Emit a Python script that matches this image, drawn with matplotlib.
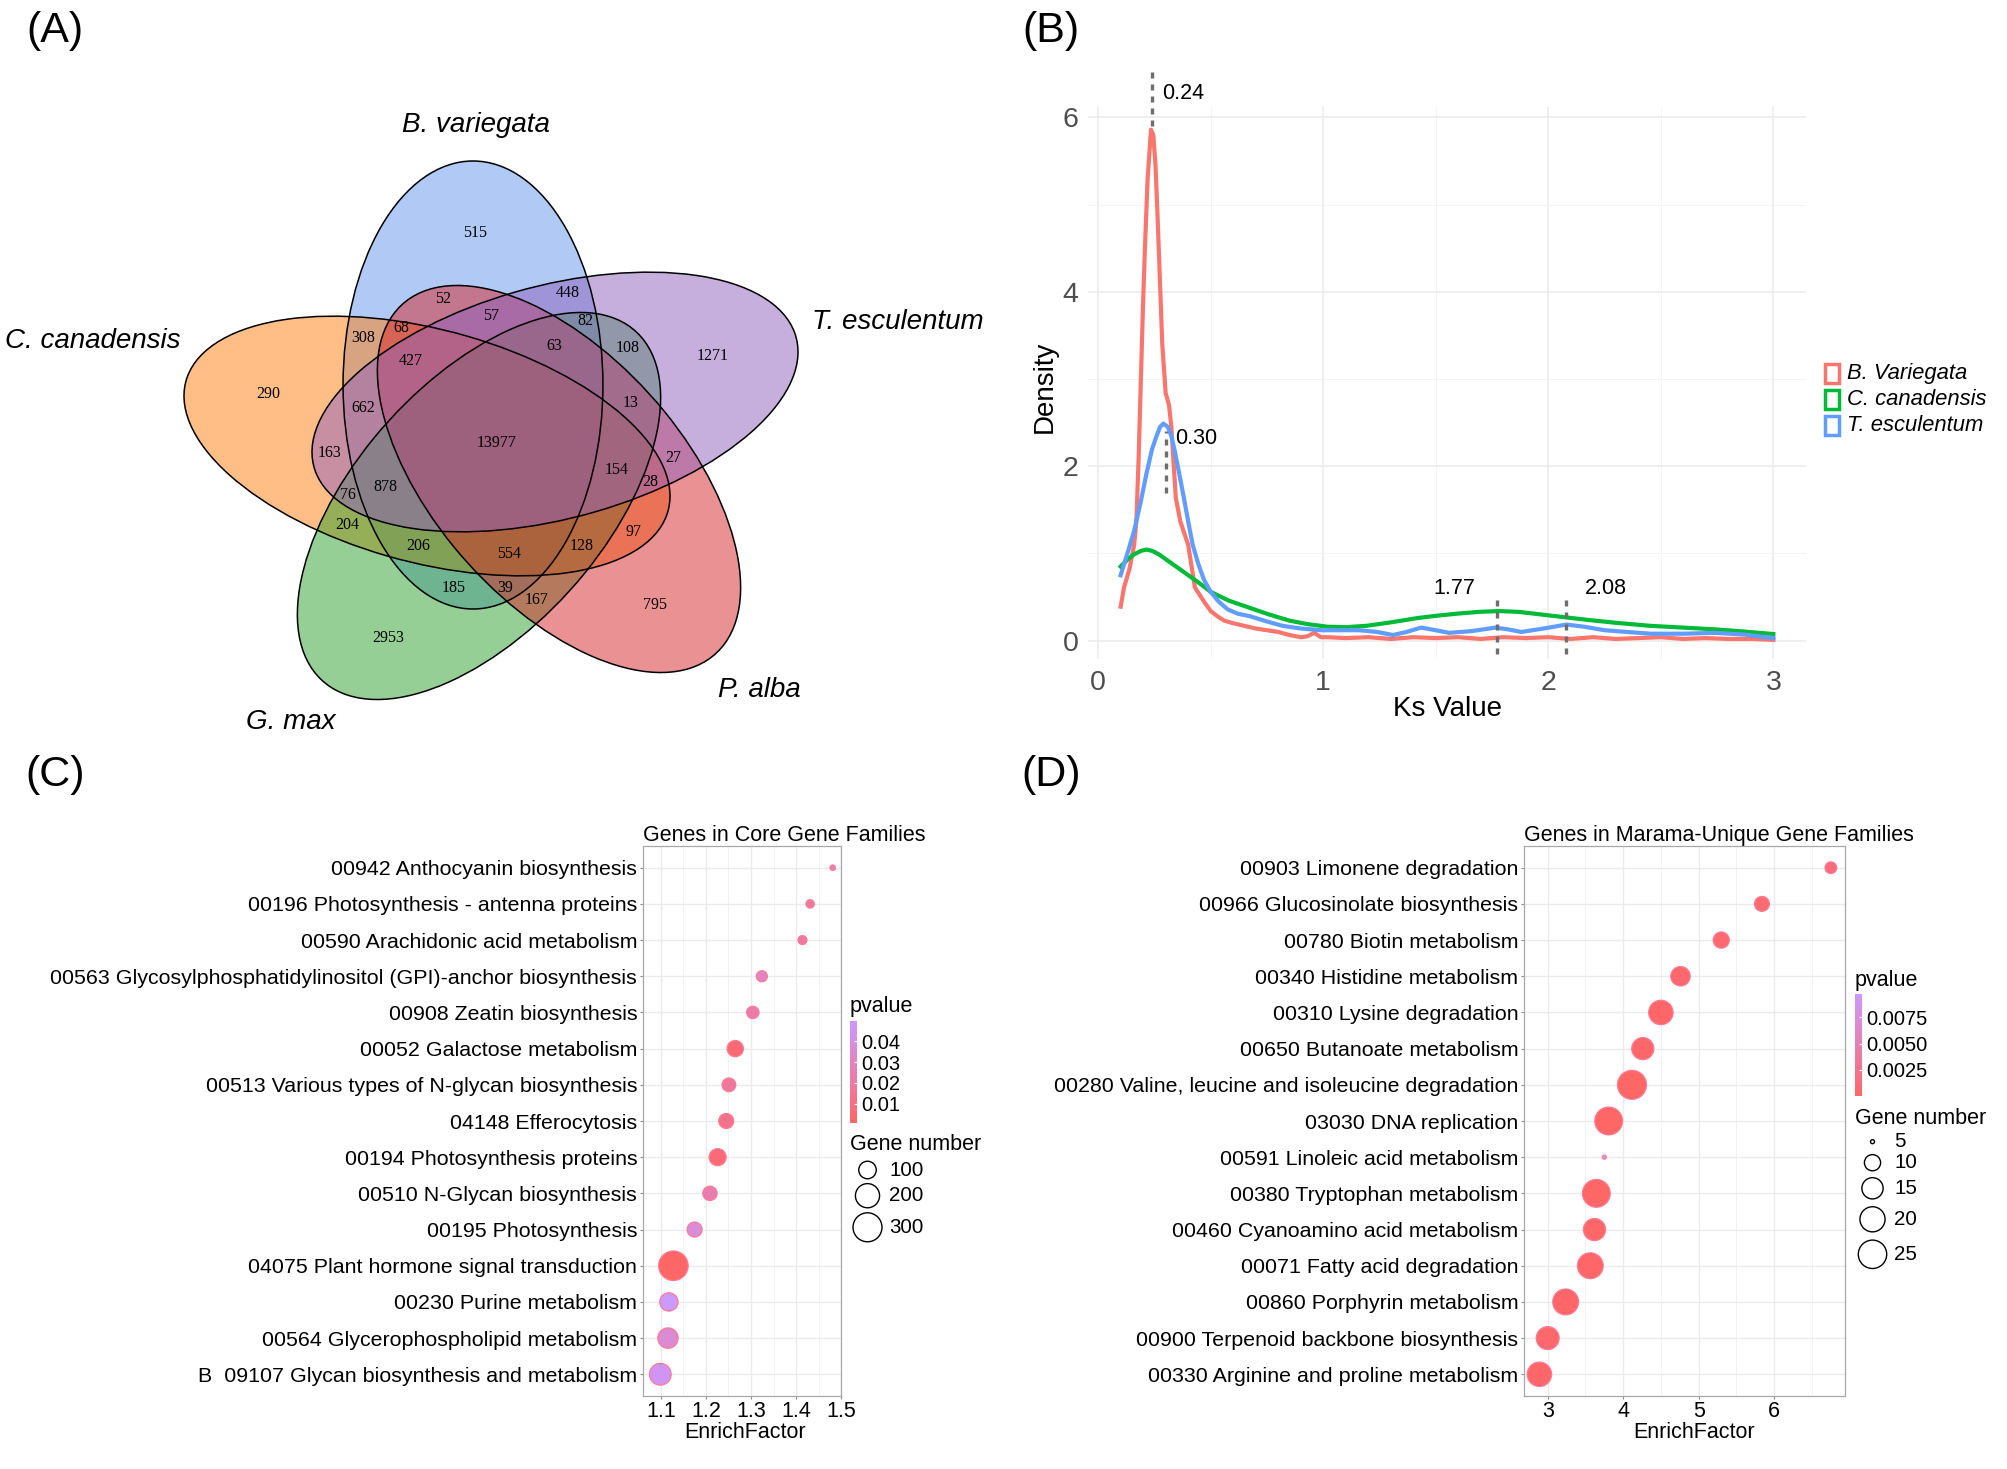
import numpy as np
import matplotlib.pyplot as plt
from matplotlib.patches import Ellipse, Rectangle
from matplotlib.colors import LinearSegmentedColormap, Normalize

W, H = 2008, 1469
plt.rcParams['font.family'] = ['Liberation Sans', 'DejaVu Sans']

# ---------------- data ----------------
# (A) five-set Venn
venn_names = ['B. variegata', 'T. esculentum', 'P. alba', 'G. max', 'C. canadensis']
venn_colors = ['#6495ED', '#9161BD', '#D62728', '#2CA02C', '#FF7F0E']
venn_counts = [515, 1271, 795, 2953, 290, 52, 448, 57, 82, 68, 308, 63, 108, 427, 13,
               662, 13977, 163, 27, 154, 28, 878, 76, 204, 97, 206, 128, 554, 185, 39, 167]

# (B) Ks density
bv_x = [0.10, 0.115, 0.14, 0.16, 0.17, 0.18, 0.19, 0.20, 0.21, 0.22, 0.235, 0.245, 0.255,
        0.265, 0.275, 0.285, 0.30, 0.315, 0.325, 0.335, 0.345, 0.365,
        0.40, 0.43, 0.47, 0.50, 0.53, 0.56, 0.60, 0.65, 0.70, 0.75, 0.80, 0.85, 0.90, 0.93, 0.96,
        0.99, 1.02, 1.10, 1.20, 1.30, 1.40, 1.50, 1.60, 1.70, 1.80, 1.90, 2.00, 2.10, 2.20, 2.30,
        2.40, 2.50, 2.60, 2.70, 2.80, 2.90, 3.00]
bv_y = [0.39, 0.61, 0.83, 1.10, 1.37, 2.10, 3.0, 3.90, 4.64, 5.30, 5.86, 5.80, 5.45,
        4.80, 4.10, 3.40, 2.84, 2.70, 2.46, 2.05, 1.64, 1.37,
        1.10, 0.61, 0.45, 0.34, 0.28, 0.23, 0.20, 0.17, 0.14, 0.12, 0.10, 0.065, 0.04, 0.05, 0.09,
        0.04, 0.04, 0.03, 0.04, 0.02, 0.04, 0.03, 0.04, 0.02, 0.04, 0.03, 0.04, 0.02, 0.04, 0.02,
        0.03, 0.04, 0.02, 0.03, 0.02, 0.02, 0.01]
cc_x = [0.10, 0.13, 0.16, 0.19, 0.215, 0.24, 0.27, 0.33, 0.39, 0.45, 0.50, 0.58, 0.675, 0.76,
        0.85, 0.93, 1.02, 1.10, 1.19, 1.30, 1.42, 1.50, 1.595, 1.69, 1.78, 1.87, 1.97, 2.07, 2.17,
        2.30, 2.455, 2.60, 2.74, 2.87, 3.00]
cc_y = [0.85, 0.93, 0.99, 1.03, 1.045, 1.03, 0.99, 0.88, 0.77, 0.66, 0.56, 0.46, 0.375, 0.30,
        0.23, 0.19, 0.16, 0.155, 0.17, 0.21, 0.26, 0.285, 0.31, 0.33, 0.34, 0.33, 0.30, 0.27, 0.24,
        0.205, 0.17, 0.15, 0.13, 0.105, 0.076]
te_x = [0.10, 0.13, 0.16, 0.19, 0.215, 0.24, 0.26, 0.275, 0.29, 0.31, 0.325, 0.34, 0.36, 0.38,
        0.40, 0.42, 0.445, 0.47, 0.50, 0.535, 0.575, 0.62, 0.675, 0.75, 0.82, 0.90, 0.99, 1.08,
        1.16, 1.24, 1.31, 1.37, 1.435, 1.50, 1.56, 1.66, 1.765, 1.82, 1.88, 1.98, 2.08, 2.16,
        2.25, 2.35, 2.455, 2.60, 2.74, 2.87, 3.00]
te_y = [0.75, 1.00, 1.26, 1.60, 1.92, 2.20, 2.35, 2.45, 2.49, 2.45, 2.35, 2.18, 1.92, 1.65,
        1.37, 1.10, 0.88, 0.70, 0.56, 0.45, 0.36, 0.31, 0.28, 0.22, 0.17, 0.14, 0.12, 0.12,
        0.12, 0.10, 0.065, 0.10, 0.15, 0.12, 0.09, 0.11, 0.15, 0.13, 0.10, 0.14, 0.185, 0.16,
        0.12, 0.10, 0.08, 0.08, 0.09, 0.07, 0.03]
ks_peaks = [0.24, 0.30, 1.77, 2.08]

# (C) core gene families
core_terms = ['00942 Anthocyanin biosynthesis',
              '00196 Photosynthesis - antenna proteins',
              '00590 Arachidonic acid metabolism',
              '00563 Glycosylphosphatidylinositol (GPI)-anchor biosynthesis',
              '00908 Zeatin biosynthesis',
              '00052 Galactose metabolism',
              '00513 Various types of N-glycan biosynthesis',
              '04148 Efferocytosis',
              '00194 Photosynthesis proteins',
              '00510 N-Glycan biosynthesis',
              '00195 Photosynthesis',
              '04075 Plant hormone signal transduction',
              '00230 Purine metabolism',
              '00564 Glycerophospholipid metabolism',
              'B  09107 Glycan biosynthesis and metabolism']
core_enrich = [1.481, 1.431, 1.414, 1.324, 1.304, 1.265, 1.251, 1.245, 1.226, 1.209, 1.175,
               1.128, 1.118, 1.116, 1.099]
core_genes = [29, 33, 35, 44, 52, 86, 62, 73, 94, 67, 73, 312, 109, 137, 158]
core_pvalue = [0.030, 0.020, 0.019, 0.030, 0.022, 0.005, 0.018, 0.012, 0.006, 0.024, 0.037,
               0.0008, 0.0497, 0.036, 0.046]

# (D) marama-unique gene families
uniq_terms = ['00903 Limonene degradation',
              '00966 Glucosinolate biosynthesis',
              '00780 Biotin metabolism',
              '00340 Histidine metabolism',
              '00310 Lysine degradation',
              '00650 Butanoate metabolism',
              '00280 Valine, leucine and isoleucine degradation',
              '03030 DNA replication',
              '00591 Linoleic acid metabolism',
              '00380 Tryptophan metabolism',
              '00460 Cyanoamino acid metabolism',
              '00071 Fatty acid degradation',
              '00860 Porphyrin metabolism',
              '00900 Terpenoid backbone biosynthesis',
              '00330 Arginine and proline metabolism']
uniq_enrich = [6.753, 5.839, 5.30, 4.76, 4.50, 4.26, 4.117, 3.808, 3.75, 3.645, 3.62, 3.565,
               3.238, 3.0, 2.89]
uniq_genes = [7, 9, 10, 13, 19, 16, 26, 24, 5, 24, 16, 21, 21, 17, 19]
uniq_pvalue = [0.0012, 0.0009, 0.0006, 0.0004, 0.0001, 0.0003, 0.00002, 0.00005, 0.0097,
               0.00004, 0.0002, 0.0001, 0.0001, 0.0004, 0.0003]

# ---------------- layout (pixel positions) ----------------
# ellipse centres on the page, same order as venn_names
ell_centres = [(473, 385), (555, 402), (559, 479), (479, 506), (427, 446)]
count_pos = [(475, 233), (713, 356), (655, 605), (388, 638), (268, 394), (443, 299), (568, 293),
             (491, 316), (585, 321), (401, 328), (363, 338), (554, 346), (628, 348), (411, 361),
             (631, 403), (363, 408), (497, 443), (330, 453), (673, 458), (617, 470), (650, 482),
             (385, 487), (348, 495), (347, 525), (634, 532), (418, 546), (582, 546), (509, 554),
             (454, 588), (505, 588), (537, 600)]
name_pos = [(476, 125), (898, 322), (759, 690), (291, 722), (93, 341)]


def box(l, t, r, b):
    return [l / W, 1 - b / H, (r - l) / W, (b - t) / H]


fig = plt.figure(figsize=(W / 100, H / 100), dpi=100)

# ---------------- (A) Venn ----------------
# the Venn is drawn in a frame stretched 1.125x horizontally
stretch = 1.125
axv = fig.add_axes(box(0, 0, 1000, 740))
axv.set_xlim(500 - 500 / stretch, 500 + 500 / stretch)
axv.set_ylim(740, 0)
axv.axis('off')
semi_major, semi_minor = 224, 115.5
ellipses = []
for k, (px, py) in enumerate(ell_centres):
    ellipses.append(((500 + (px - 500) / stretch, py), 72 * k))
for k in [0, 4, 3, 2, 1]:
    centre, ang = ellipses[k]
    axv.add_patch(Ellipse(centre, 2 * semi_minor, 2 * semi_major, angle=ang,
                          facecolor=venn_colors[k], alpha=0.5, lw=0, zorder=1))
for k in range(5):
    centre, ang = ellipses[k]
    axv.add_patch(Ellipse(centre, 2 * semi_minor, 2 * semi_major, angle=ang,
                          fill=False, edgecolor='black', lw=1.1, zorder=2))

# ---------------- (B) Ks density ----------------
axb = fig.add_axes(box(1088, 107, 1806, 659))
ks_colors = ['#F8766D', '#00BA38', '#619CFF']
axb.plot(bv_x, bv_y, color=ks_colors[0], lw=3, zorder=3, solid_joinstyle='round')
axb.plot(cc_x, cc_y, color=ks_colors[1], lw=3, zorder=3, solid_joinstyle='round')
axb.plot(te_x, te_y, color=ks_colors[2], lw=3, zorder=4, solid_joinstyle='round')
axb.set_xlim(-0.045, 3.145)
axb.set_ylim(-0.21, 6.12)
axb.set_xticks([0, 1, 2, 3])
axb.set_xticks([0.5, 1.5, 2.5], minor=True)
axb.set_yticks([0, 2, 4, 6])
axb.set_yticks([1, 3, 5], minor=True)
axb.grid(which='major', color='#ebebeb', lw=1.1)
axb.grid(which='minor', color='#f2f2f2', lw=0.6)
axb.set_axisbelow(True)
for s in axb.spines.values():
    s.set_visible(False)
axb.tick_params(which='both', length=0, labelsize=20.5, labelcolor='#4d4d4d')
axb.tick_params(axis='x', pad=8)
axb.tick_params(axis='y', pad=7)
dash = dict(color='#6e6e6e', lw=2.4, ls=(0, (1.8, 1.8)), clip_on=False, zorder=5)
axb.plot([ks_peaks[0]] * 2, [5.90, 6.54], **dash)
axb.plot([ks_peaks[1]] * 2, [1.69, 2.40], **dash)
axb.plot([ks_peaks[2]] * 2, [-0.15, 0.51], **dash)
axb.plot([ks_peaks[3]] * 2, [-0.15, 0.51], **dash)
axb.text(0.285, 6.27, '0.24', fontsize=15.5, va='center', ha='left')
axb.text(0.344, 2.32, '0.30', fontsize=15.5, va='center', ha='left')
axb.text(1.674, 0.60, '1.77', fontsize=15.5, va='center', ha='right')
axb.text(2.164, 0.60, '2.08', fontsize=15.5, va='center', ha='left')

# ---------------- (C) and (D) dot plots ----------------
pcmap = LinearSegmentedColormap.from_list('pv', ['#FF6666', '#CC99FF'])


def dot_area(n, nmin, nmax, dmin, dmax):
    n = np.asarray(n, dtype=float)
    d = dmin + (dmax - dmin) * np.sqrt((n - nmin) / (nmax - nmin))
    return (d * 0.72) ** 2


def dot_panel(rect, terms, enrich, genes, pvals, xlim, major, minor, title, drange):
    ax = fig.add_axes(box(*rect))
    ypos = np.arange(len(terms))
    norm = Normalize(min(pvals), max(pvals))
    sizes = dot_area(genes, min(genes), max(genes), *drange)
    sc = ax.scatter(enrich, ypos, s=sizes, c=pvals, cmap=pcmap, norm=norm,
                    edgecolors='#ff7a95', linewidths=0.9, zorder=3)
    ax.set_xlim(*xlim)
    ax.set_ylim(len(terms) - 0.4, -0.6)
    ax.set_yticks(ypos)
    ax.set_yticklabels(terms, fontsize=15.4)
    ax.set_xticks(major)
    ax.set_xticks(minor, minor=True)
    ax.grid(which='major', color='#ebebeb', lw=1.0)
    ax.grid(which='minor', axis='x', color='#f0f0f0', lw=0.6)
    ax.set_axisbelow(True)
    for s in ax.spines.values():
        s.set_color('#a8a8a8')
        s.set_linewidth(0.9)
    ax.tick_params(which='major', length=2.5, width=0.8, color='#8c8c8c', pad=1.5)
    ax.tick_params(which='minor', length=0)
    ax.tick_params(axis='x', labelsize=15.5, pad=1)
    fig.text(rect[0] / W, 1 - 836 / H, title, fontsize=15.5, ha='left', va='center')
    return sc


scC = dot_panel((642.7, 846, 841.3, 1396), core_terms, core_enrich, core_genes, core_pvalue,
                (1.06, 1.50), [1.1, 1.2, 1.3, 1.4, 1.5], [1.15, 1.25, 1.35, 1.45],
                'Genes in Core Gene Families', (5.5, 29.5))
scD = dot_panel((1524, 846, 1845, 1396), uniq_terms, uniq_enrich, uniq_genes, uniq_pvalue,
                (2.686, 6.94), [3, 4, 5, 6], [3.5, 4.5, 5.5, 6.5],
                'Genes in Marama-Unique Gene Families', (4.0, 29.0))

for sc, rect, ticks, labels in [
        (scC, (850, 1021, 857.5, 1123), [0.01, 0.02, 0.03, 0.04], ['0.01', '0.02', '0.03', '0.04']),
        (scD, (1855, 994, 1862, 1096), [0.0025, 0.005, 0.0075], ['0.0025', '0.0050', '0.0075'])]:
    cax = fig.add_axes(box(*rect))
    cb = fig.colorbar(sc, cax=cax)
    cb.outline.set_visible(False)
    cb.set_ticks(ticks)
    cb.set_ticklabels(labels)
    cb.ax.tick_params(length=2, width=0.8, color='white', direction='in', labelsize=14.5, pad=3)

# ---------------- overlay: free text and legends ----------------
ov = fig.add_axes([0, 0, 1, 1], zorder=10)
ov.set_xlim(0, W)
ov.set_ylim(H, 0)
ov.axis('off')

for lab, (x, y) in zip(['(A)', '(B)', '(C)', '(D)'], [(55, 31), (1051, 31), (55, 775), (1051, 775)]):
    ov.text(x, y, lab, fontsize=31, ha='center', va='center')

for n, (x, y) in zip(venn_counts, count_pos):
    ov.text(x, y, str(n), fontsize=11.5, family='Liberation Serif', ha='center', va='center')
for name, (x, y) in zip(venn_names, name_pos):
    ov.text(x, y, name, fontsize=20, style='italic', ha='center', va='center')

ov.text(1448, 709, 'Ks Value', fontsize=20, ha='center', va='center')
ov.text(1045, 387, 'Density', fontsize=20, ha='center', va='center', rotation=90)
for name, col, y in zip(['B. Variegata', 'C. canadensis', 'T. esculentum'], ks_colors, [373, 399, 425]):
    ov.add_patch(Rectangle((1825, y - 9.5), 14, 19, fill=False, edgecolor=col, lw=2.5))
    ov.text(1847, y, name, fontsize=15.8, style='italic', ha='left', va='center')

ov.text(745, 1432, 'EnrichFactor', fontsize=15.5, ha='center', va='center')
ov.text(1694, 1432, 'EnrichFactor', fontsize=15.5, ha='center', va='center')

# size legends
for leg_x, leg_top, title_pv, vals, genes, drange, ys in [
        (850, 1144, 1006.7, [100, 200, 300], core_genes, (5.5, 29.5), [1170, 1195.7, 1227.3]),
        (1855, 1118.3, 980.7, [5, 10, 15, 20, 25], uniq_genes, (4.0, 29.0),
         [1141.7, 1162.7, 1188.3, 1219.3, 1254.3])]:
    ov.text(leg_x, title_pv, 'pvalue', fontsize=15.5, ha='left', va='center')
    ov.text(leg_x, leg_top, 'Gene number', fontsize=15.5, ha='left', va='center')
    areas = dot_area(vals, min(genes), max(genes), *drange)
    ov.scatter([leg_x + 17.5] * len(vals), ys, s=areas, facecolors='none',
               edgecolors='black', linewidths=1.0)
    for v, y in zip(vals, ys):
        ov.text(leg_x + 39.5, y, str(v), fontsize=14.8, ha='left', va='center')

fig.savefig('out.png', dpi=100, facecolor='white')
